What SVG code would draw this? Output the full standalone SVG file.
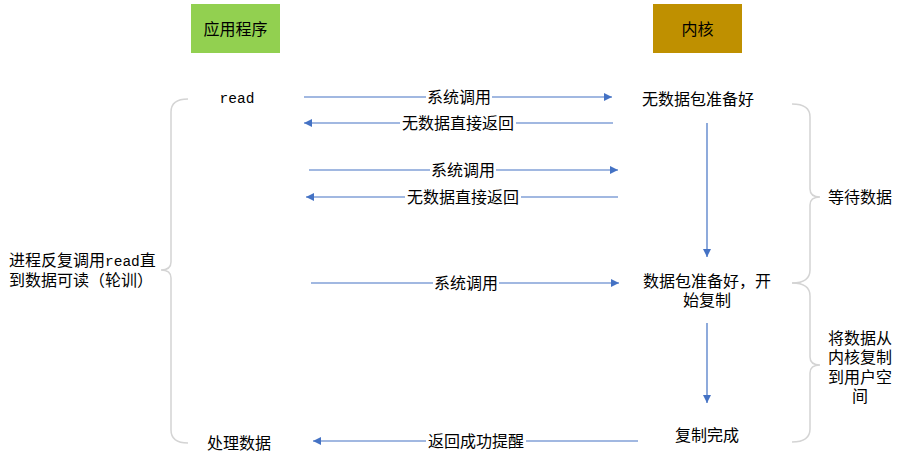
<svg xmlns="http://www.w3.org/2000/svg" width="901" height="462" viewBox="0 0 901 462">
<style>
text{font-family:"Noto Sans CJK SC","Liberation Sans",sans-serif;font-size:16px;fill:#000}
.m{font-family:"Liberation Mono","Noto Sans CJK SC",monospace;font-size:14.5px}
.c{text-anchor:middle}
.ln{stroke:#4472C4;stroke-width:1.2;fill:none}
.br{stroke:#d4d4d4;stroke-width:1.5;fill:none}
.bg{fill:#fff}
</style>
<defs>
<marker id="ah" viewBox="0 0 10 10" refX="10" refY="5" markerWidth="10" markerHeight="8" markerUnits="userSpaceOnUse" orient="auto">
<path d="M0,0 L10,5 L0,10 z" fill="#4472C4"/>
</marker>
</defs>
<rect width="901" height="462" fill="#fff"/>
<g id="app">
<rect x="191" y="4" width="89" height="49" fill="#92D050"/>
<text class="c" x="235.5" y="34.5">应用程序</text>
</g>
<g id="kernel">
<rect x="653" y="4" width="89" height="49" fill="#BF9000"/>
<text class="c" x="697.5" y="34.5">内核</text>
</g>
<g id="n-read"><text class="m c" x="237" y="103">read</text></g>
<g id="n-nodata"><text class="c" x="698" y="104.5">无数据包准备好</text></g>
<g id="n-ready"><text class="c" x="707" y="287">数据包准备好，开</text><text class="c" x="707" y="306">始复制</text></g>
<g id="n-done"><text class="c" x="707" y="441">复制完成</text></g>
<g id="n-process"><text class="c" x="239" y="449">处理数据</text></g>
<g id="n-poll"><text x="9" y="265.5">进程反复调用<tspan class="m">read</tspan>直</text><text x="9" y="285.5">到数据可读（轮训）</text></g>
<g id="n-wait"><text x="828" y="203">等待数据</text></g>
<g id="n-copy"><text class="c" x="860" y="343.5">将数据从</text><text class="c" x="860" y="363">内核复制</text><text class="c" x="860" y="382.5">到用户空</text><text class="c" x="860" y="401.5">间</text></g>
<g id="braces">
<path class="br" d="M188,99 Q171,99 171,112 L171,262 Q171,270 161,270 Q171,270 171,278 L171,430 Q171,443 188,443"/>
<path class="br" d="M792,104 Q810,104 810,117 L810,189 Q810,197 820,197 Q810,197 810,205 L810,270 Q810,283 792,283"/>
<path class="br" d="M792,283 Q810,283 810,296 L810,357 Q810,365 820,365 Q810,365 810,373 L810,429 Q810,442 792,442"/>
</g>
<g id="connectors">
<line class="ln" x1="304" y1="97" x2="612" y2="97" marker-end="url(#ah)"/>
<rect class="bg" x="426" y="88" width="66" height="18"/>
<text class="c" x="459" y="102.5">系统调用</text>
<line class="ln" x1="613" y1="123" x2="304" y2="123" marker-end="url(#ah)"/>
<rect class="bg" x="400" y="114" width="116" height="18"/>
<text class="c" x="458" y="128.5">无数据直接返回</text>
<line class="ln" x1="309" y1="170" x2="618" y2="170" marker-end="url(#ah)"/>
<rect class="bg" x="430" y="161" width="66" height="18"/>
<text class="c" x="463" y="175.5">系统调用</text>
<line class="ln" x1="618" y1="197" x2="306" y2="197" marker-end="url(#ah)"/>
<rect class="bg" x="405" y="188" width="116" height="18"/>
<text class="c" x="463" y="202.5">无数据直接返回</text>
<line class="ln" x1="311" y1="283" x2="619" y2="283" marker-end="url(#ah)"/>
<rect class="bg" x="433" y="274" width="66" height="18"/>
<text class="c" x="466" y="288.5">系统调用</text>
<line class="ln" x1="638" y1="441" x2="313" y2="441" marker-end="url(#ah)"/>
<rect class="bg" x="426" y="432" width="100" height="18"/>
<text class="c" x="476" y="446.5">返回成功提醒</text>
<line class="ln" x1="707" y1="123" x2="707" y2="257" marker-end="url(#ah)"/>
<line class="ln" x1="707" y1="323" x2="707" y2="403" marker-end="url(#ah)"/>
</g>
</svg>
